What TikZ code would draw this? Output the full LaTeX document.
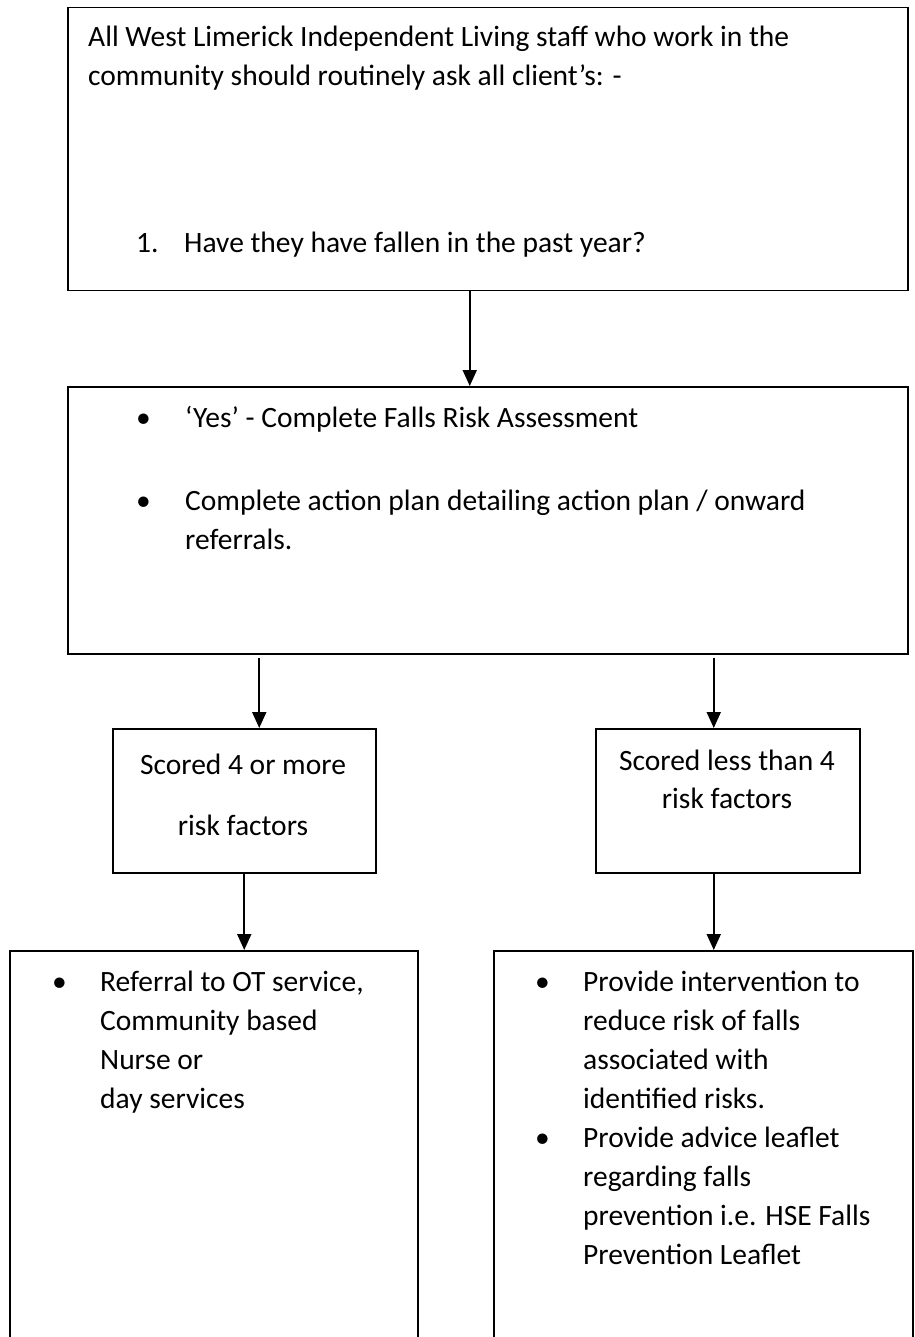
\documentclass[tikz,border=0pt]{standalone}
\usepackage{fontspec}
\setmainfont{Carlito}
\usetikzlibrary{positioning}
\usetikzlibrary{arrows.meta}

\newcommand{\lines}[1]{\begin{tabular}[t]{@{}l@{}}#1\end{tabular}}

\begin{document}
\begin{tikzpicture}[x=1pt,y=-1pt
    ,box/.style={draw,line width=1.5pt,anchor=north west,inner sep=0pt}
    ,txt/.style={anchor=base west,inner sep=0pt
                ,font=\fontsize{29.5}{39}\selectfont}
    ,mid/.style={anchor=base,inner sep=0pt,font=\fontsize{29.5}{39}\selectfont}
    ,link/.style={-{Triangle[length=16pt,width=14pt]},line width=2pt}]
  \useasboundingbox (0,0) rectangle (914,1337);
  \clip (0,0) rectangle (914,1337);

  % boxes
  \node[box,minimum width=840pt,minimum height=283pt] (ask) at (67,7) {};
  \node[box,minimum width=840pt,minimum height=267pt] (plan) at (67,386) {};
  \node[box,minimum width=263pt,minimum height=144pt] (more) at (112,728) {};
  \node[box,minimum width=264pt,minimum height=144pt] (less) at (595,728) {};
  \node[box,minimum width=408pt,minimum height=420pt] (refer) at (9,950) {};
  \node[box,minimum width=419pt,minimum height=420pt] (advice) at (493,950) {};

  % texts
  \node[txt] (askt) at (88,47) {\lines{All West Limerick Independent Living staff who work in the\\community should routinely ask all client’s: -}};
  \node[txt] (num) at (136,253) {1.};
  \node[txt] (fallen) at (184,253) {Have they have fallen in the past year?};

  \node[txt] (b1) at (136,427) {•};
  \node[txt] (yes) at (185,427) {‘Yes’ - Complete Falls Risk Assessment};
  \node[txt] (b2) at (136,510) {•};
  \node[txt] (action) at (185,510) {\lines{Complete action plan detailing action plan / onward\\referrals.}};

  \node[mid] (more1) at (243,774) {Scored 4 or more};
  \node[mid] (more2) at (243,835) {risk factors};
  \node[mid] (less1) at (727,770) {Scored less than 4};
  \node[mid] (less2) at (727,808) {risk factors};

  \node[txt] (b3) at (52,991) {•};
  \node[txt] (refert) at (100,991) {\lines{Referral to OT service,\\Community based\\Nurse or\\day services}};
  \node[txt] (b4) at (535,991) {•};
  \node[txt] (reduce) at (583,991) {\lines{Provide intervention to\\reduce risk of falls\\associated with\\identified risks.}};
  \node[txt] (b5) at (535,1147) {•};
  \node[txt] (leaflet) at (583,1147) {\lines{Provide advice leaflet\\regarding falls\\prevention i.e. HSE Falls\\Prevention Leaflet}};

  % arrows
  \coordinate (top) at ([xshift=-18pt]ask.south);
  \coordinate (ml) at ([xshift=15pt]more.north);
  \coordinate (mr) at ([xshift=-14pt]less.north);
  \coordinate (ll) at (more.south);
  \coordinate (lr) at ([xshift=-14pt]less.south);
  \draw[link] (top) -- (top |- plan.north);
  \draw[link] ([yshift=-3pt]ml |- plan.south) -- (ml);
  \draw[link] ([yshift=-3pt]mr |- plan.south) -- (mr);
  \draw[link] (ll) -- (ll |- refer.north);
  \draw[link] (lr) -- (lr |- advice.north);
\end{tikzpicture}
\end{document}
